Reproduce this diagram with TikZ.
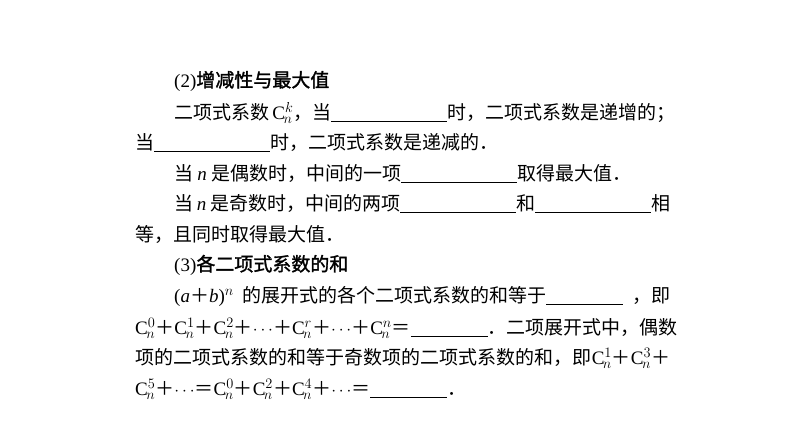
\documentclass[tikz,border=0pt]{standalone}
\usepackage{fontspec}
\setmainfont{Noto Sans CJK SC}
\newfontfamily\lat{Liberation Serif}
\newfontfamily\cjkb[FakeBold=1.5]{Noto Sans CJK SC}
\newcommand\C[1]{{\lat C}$^{#1}_{\kern-1.5pt n}$}
\newcommand\ul[1]{\rlap{\rule[-3pt]{#1}{0.7pt}}\hspace{#1}}
\newcommand\jl[2]{\makebox[#1][s]{#2}}
\begin{document}
\begin{tikzpicture}[x=1pt,y=1pt,every node/.style={anchor=base west,inner sep=0pt,font=\fontsize{19}{22}\selectfont}]
\useasboundingbox (0,0) rectangle (794,-447);
\node (l1) at (174,-87) {\cjkb{\lat (2)}增减性与最大值};
\node (l2) at (174,-119) {\jl{496pt}{二项式系数\hfill\,\C{k}，当\hfill\ul{116pt}\hfill 时，二项式系数是递增的；}};
\node (l3) at (135,-149) {当\ul{116pt}时，二项式系数是递减的．};
\node (l4) at (174,-180) {当 {\lat\itshape n} 是偶数时，中间的一项\ul{116pt}取得最大值．};
\node (l5) at (174,-210) {\jl{496pt}{当 {\lat\itshape n} 是奇数时，中间的两项\ul{116pt}\hfill 和\hfill\ul{116pt}\hfill 相}};
\node (l6) at (135,-241) {等，且同时取得最大值．};
\node (l7) at (174,-271) {\cjkb{\lat (3)}各二项式系数的和};
\node (l8) at (174,-302) {\jl{496pt}{{\lat(\textit{a}}＋{\lat\textit{b})}$^n$\hfill 的展开式的各个二项式系数的和等于\ul{77pt}\hfill，即}};
\node (l9) at (135,-334) {\jl{535pt}{\C0＋\C1＋\C2＋$\cdots$＋\C{r}＋$\cdots$＋\C{n}＝\hfill\ul{77pt}．二项展开式中，偶数}};
\node (l10) at (135,-364) {\jl{535pt}{项的二项式系数的和等于奇数项的二项式系数的和，即\hfill\C1＋\C3＋}};
\node (l11) at (135,-395) {\C5＋$\cdots$＝\C0＋\C2＋\C4＋$\cdots$＝\ul{77pt}．};
\end{tikzpicture}
\end{document}
